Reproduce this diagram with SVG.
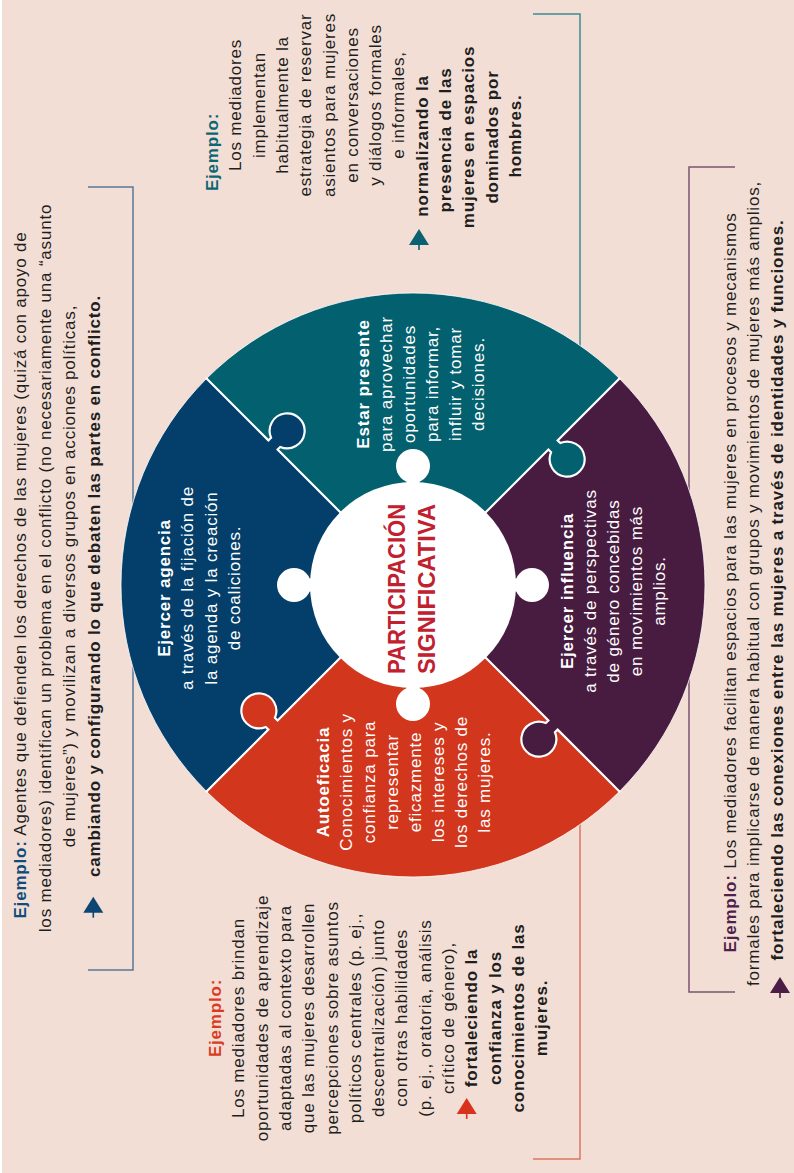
<svg xmlns="http://www.w3.org/2000/svg" width="794" height="1173" viewBox="0 0 794 1173">
<defs>
<style>
.bg{fill:#F2DED5}
.tx{font-family:"Liberation Sans",Arial,Helvetica,sans-serif;font-size:17px;letter-spacing:0.8px;text-anchor:middle;fill:#1E1E1E}
.wt{fill:#FFFFFF}
.b{font-weight:700}
.br{fill:none;stroke-width:1.5}
.dv{fill:none;stroke:#FFFFFF;stroke-width:2.2}
.ttl{font-family:"Liberation Sans",Arial,Helvetica,sans-serif;font-size:23.5px;font-weight:700;fill:#C1202F;text-anchor:middle}
</style>
<g id="arr"><path d="M0,0 L10,16 L-10,16 Z" fill="currentColor"/><path d="M0,15 V21" stroke="currentColor" stroke-width="1.6"/></g>
<path id="knob" d="M191.5,-1.5 V3.75 A17.5,17.5 0 1 0 204.5,3.75 V-1.5 Z"/>
<path id="divider" d="M100,0 H191.5 V3.75 A17.5,17.5 0 1 0 204.5,3.75 V0 H293"/>
</defs>

<g id="background">
<rect width="794" height="1173" fill="#FFFFFF"/>
<rect x="2" width="792" height="1173" class="bg"/>
</g>

<g id="connectors">
<path class="br" stroke="#5A7898" d="M88,187 H133 V970 H88"/>
<path class="br" stroke="#3E8A92" d="M533,14 H580 V360"/>
<path class="br" stroke="#DD7560" d="M580,810 V1159 H533"/>
<path class="br" stroke="#7A5470" d="M735,167 H689 V992 H735"/>
</g>

<g id="node-estar-presente">
<path fill="#03606F" d="M413,585 L206.52,378.52 A292,292 0 0 1 619.48,378.52 Z"/>
<g transform="rotate(-90)">
<text class="tx wt b" x="-384" y="369">Estar presente</text>
<text class="tx wt" x="-384" y="392">para aprovechar</text>
<text class="tx wt" x="-384" y="415">oportunidades</text>
<text class="tx wt" x="-384" y="438">para informar,</text>
<text class="tx wt" x="-384" y="461">influir y tomar</text>
<text class="tx wt" x="-384" y="484">decisiones.</text>
</g>
</g>

<g id="node-ejercer-influencia">
<path fill="#481C40" d="M413,585 L619.48,378.52 A292,292 0 0 1 619.48,791.48 Z"/>
<g transform="rotate(-90)">
<text class="tx wt b" x="-591" y="572.5">Ejercer influencia</text>
<text class="tx wt" x="-591" y="595.5">a través de perspectivas</text>
<text class="tx wt" x="-591" y="618.5">de género concebidas</text>
<text class="tx wt" x="-591" y="641.5">en movimientos más</text>
<text class="tx wt" x="-591" y="664.5">amplios.</text>
</g>
</g>

<g id="node-autoeficacia">
<path fill="#D2361C" d="M413,585 L619.48,791.48 A292,292 0 0 1 206.52,791.48 Z"/>
<g transform="rotate(-90)">
<text class="tx wt b" x="-782" y="329">Autoeficacia</text>
<text class="tx wt" x="-782" y="352">Conocimientos y</text>
<text class="tx wt" x="-782" y="375">confianza para</text>
<text class="tx wt" x="-782" y="398">representar</text>
<text class="tx wt" x="-782" y="421">eficazmente</text>
<text class="tx wt" x="-782" y="444">los intereses y</text>
<text class="tx wt" x="-782" y="467">los derechos de</text>
<text class="tx wt" x="-782" y="490">las mujeres.</text>
</g>
</g>

<g id="node-ejercer-agencia">
<path fill="#033F6A" d="M413,585 L206.52,791.48 A292,292 0 0 1 206.52,378.52 Z"/>
<g transform="rotate(-90)">
<text class="tx wt b" x="-588" y="169.5">Ejercer agencia</text>
<text class="tx wt" x="-588" y="193">a través de la fijación de</text>
<text class="tx wt" x="-588" y="216.5">la agenda y la creación</text>
<text class="tx wt" x="-588" y="240">de coaliciones.</text>
</g>
</g>

<g id="puzzle-joints">
<use href="#knob" transform="translate(413,585) rotate(-45)" fill="#03606F"/>
<use href="#knob" transform="translate(413,585) rotate(45)" fill="#481C40"/>
<use href="#knob" transform="translate(413,585) rotate(135)" fill="#D2361C"/>
<use href="#knob" transform="translate(413,585) rotate(225)" fill="#033F6A"/>
<use href="#divider" class="dv" transform="translate(413,585) rotate(-45)"/>
<use href="#divider" class="dv" transform="translate(413,585) rotate(45)"/>
<use href="#divider" class="dv" transform="translate(413,585) rotate(135)"/>
<use href="#divider" class="dv" transform="translate(413,585) rotate(225)"/>
<circle cx="413" cy="585" r="292" fill="none" stroke="#FFFFFF" stroke-width="1" stroke-opacity="0.8"/>
</g>

<g id="node-center">
<circle cx="413" cy="585" r="103" fill="#FFFFFF"/>
<rect x="406.5" y="466" width="13" height="238" fill="#FFFFFF"/>
<rect x="294" y="578.5" width="238" height="13" fill="#FFFFFF"/>
<circle cx="413" cy="466" r="17" fill="#FFFFFF"/>
<circle cx="413" cy="704" r="17" fill="#FFFFFF"/>
<circle cx="294" cy="585" r="17" fill="#FFFFFF"/>
<circle cx="532" cy="585" r="17" fill="#FFFFFF"/>
<g transform="rotate(-90)">
<text class="ttl" x="-589" y="405" textLength="170" lengthAdjust="spacingAndGlyphs">PARTICIPACIÓN</text>
<text class="ttl" x="-589" y="435" textLength="170" lengthAdjust="spacingAndGlyphs">SIGNIFICATIVA</text>
</g>
</g>

<g id="node-ejemplo-agencia">
<g transform="rotate(-90)">
<text class="tx" x="-575" y="26"><tspan class="b" style="fill:#0F4C7C">Ejemplo:</tspan> Agentes que defienden los derechos de las mujeres (quizá con apoyo de</text>
<text class="tx" x="-568" y="50.5">los mediadores) identifican un problema en el conflicto (no necesariamente una “asunto</text>
<text class="tx" x="-576" y="75">de mujeres”) y movilizan a diversos grupos en acciones políticas,</text>
<text class="tx b" x="-586" y="99.5">cambiando y configurando lo que debaten las partes en conflicto.</text>
</g>
<use href="#arr" transform="translate(93.3,896.7)" color="#0D4675"/>
</g>

<g id="node-ejemplo-presente">
<g transform="rotate(-90)">
<text class="tx b" x="-152" y="218" style="fill:#0A6672">Ejemplo:</text>
<text class="tx" x="-105" y="241.3">Los mediadores</text>
<text class="tx" x="-105" y="264.6">implementan</text>
<text class="tx" x="-105" y="287.9">habitualmente la</text>
<text class="tx" x="-105" y="311.2">estrategia de reservar</text>
<text class="tx" x="-105" y="334.5">asientos para mujeres</text>
<text class="tx" x="-105" y="357.8">en conversaciones</text>
<text class="tx" x="-105" y="381.1">y diálogos formales</text>
<text class="tx" x="-105" y="404.4">e informales,</text>
<text class="tx b" x="-146" y="427.7">normalizando la</text>
<text class="tx b" x="-140" y="451">presencia de las</text>
<text class="tx b" x="-137" y="474.3">mujeres en espacios</text>
<text class="tx b" x="-137" y="497.6">dominados por</text>
<text class="tx b" x="-136" y="520.9">hombres.</text>
</g>
<use href="#arr" transform="translate(419,229)" color="#0A6270"/>
</g>

<g id="node-ejemplo-autoeficacia">
<g transform="rotate(-90)">
<text class="tx b" x="-1018" y="221" style="fill:#DA3A1F">Ejemplo:</text>
<text class="tx" x="-1018" y="244.3">Los mediadores brindan</text>
<text class="tx" x="-1018" y="267.6">oportunidades de aprendizaje</text>
<text class="tx" x="-1018" y="290.9">adaptadas al contexto para</text>
<text class="tx" x="-1018" y="314.2">que las mujeres desarrollen</text>
<text class="tx" x="-1018" y="337.5">percepciones sobre asuntos</text>
<text class="tx" x="-1018" y="360.8">políticos centrales (p. ej.,</text>
<text class="tx" x="-1018" y="384.1">descentralización) junto</text>
<text class="tx" x="-1018" y="407.4">con otras habilidades</text>
<text class="tx" x="-1018" y="430.7">(p. ej., oratoria, análisis</text>
<text class="tx" x="-1018" y="454">crítico de género),</text>
<text class="tx b" x="-1018" y="477.3">fortaleciendo la</text>
<text class="tx b" x="-1018" y="500.6">confianza y los</text>
<text class="tx b" x="-1018" y="523.9">conocimientos de las</text>
<text class="tx b" x="-1018" y="547.2">mujeres.</text>
</g>
<use href="#arr" transform="translate(466.7,1098)" color="#D8321D"/>
</g>

<g id="node-ejemplo-influencia">
<g transform="rotate(-90)">
<text class="tx" x="-582.5" y="736"><tspan class="b" style="fill:#4E2248">Ejemplo:</tspan> Los mediadores facilitan espacios para las mujeres en procesos y mecanismos</text>
<text class="tx" x="-583.5" y="759.3">formales para implicarse de manera habitual con grupos y movimientos de mujeres más amplios,</text>
<text class="tx b" x="-590" y="782.6">fortaleciendo las conexiones entre las mujeres a través de identidades y funciones.</text>
</g>
<use href="#arr" transform="translate(780,977)" color="#4A1E44"/>
</g>
</svg>
